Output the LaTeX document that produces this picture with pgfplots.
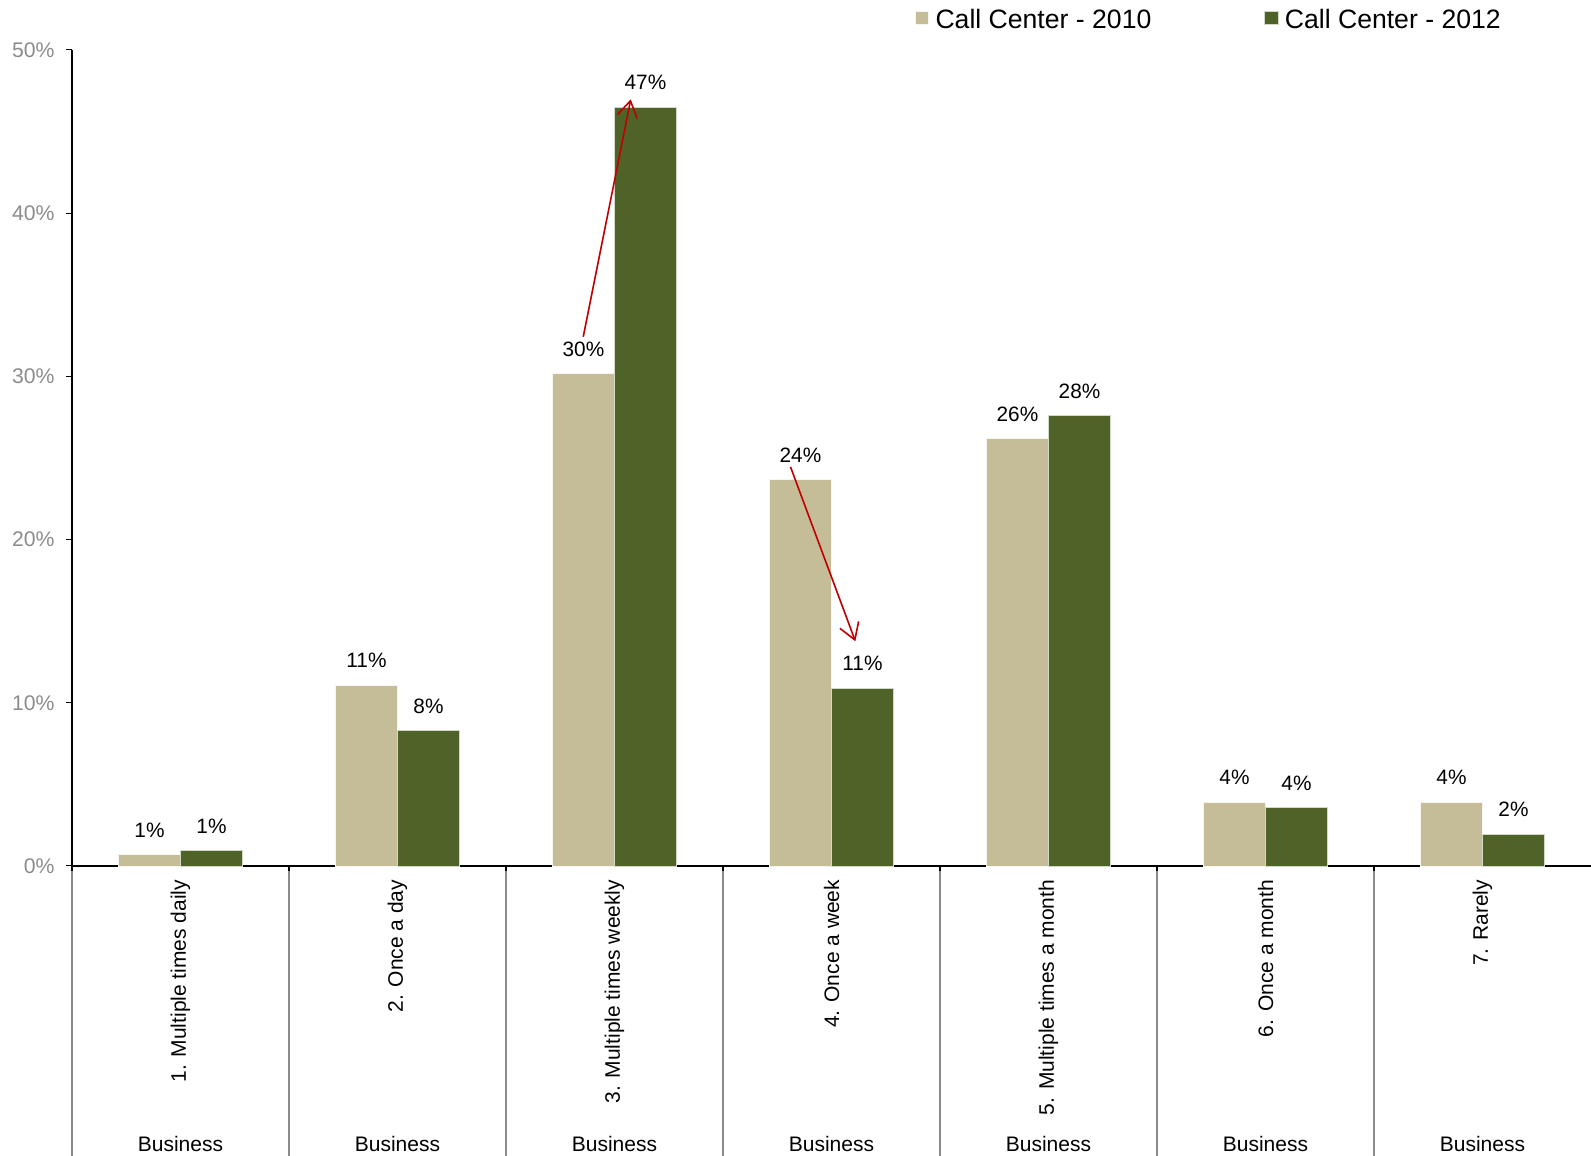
\documentclass[border=0pt]{standalone}
\usepackage{fontspec}
\setmainfont{Liberation Sans}
\usepackage{pgfplots}
\pgfplotsset{compat=1.18}
\usepackage{pgfplotstable}
\usetikzlibrary{arrows.meta}
\definecolor{tan10}{HTML}{C4BD97}
\definecolor{olive12}{HTML}{4F6228}
\definecolor{tickgray}{HTML}{8C8C8C}
\definecolor{sepgray}{HTML}{8A8A8A}
\definecolor{arrowred}{HTML}{C00000}

\pgfplotstableread{
x y lab
0 0.69 1\%
1 11.09 11\%
2 30.18 30\%
3 23.70 24\%
4 26.20 26\%
5 3.92 4\%
6 3.92 4\%
}\dataA
\pgfplotstableread{
x y lab
0 0.96 1\%
1 8.30 8\%
2 46.50 47\%
3 10.90 11\%
4 27.60 28\%
5 3.60 4\%
6 1.96 2\%
}\dataB

\begin{document}
\begin{tikzpicture}
\begin{axis}[
  at={(0,0)}, anchor=south west,
  width=759.5pt, height=408pt, scale only axis,
  xmin=-0.5, xmax=6.5, ymin=0, ymax=50,
  axis lines=left, axis line style={-, black, line width=0.6pt},
  clip=false,
  ybar=0pt, bar width=31pt,
  ytick={0,10,20,30,40,50},
  yticklabel={\pgfmathprintnumber{\tick}\%},
  /pgf/number format/assume math mode=true,
  yticklabel style={text=tickgray, xshift=-2.5pt, font=\fontsize{10.6}{12}\selectfont},
  tick align=outside, major tick length=2.75pt,
  ytick style={black, line width=0.5pt},
  xtick={0,...,6},
  xtick style={draw=none},
  xticklabels={1. Multiple times daily, 2. Once a day, 3. Multiple times weekly, 4. Once a week, 5. Multiple times a month, 6. Once a month, 7. Rarely},
  xticklabel style={rotate=90, anchor=east, inner xsep=4pt, font=\fontsize{10.5}{12}\selectfont},
  nodes near coords,
  point meta=explicit symbolic,
  every node near coord/.append style={anchor=center, yshift=12.2pt, font=\fontsize{10.4}{12}\selectfont, text=black},
  legend columns=2,
  legend style={at={(0.555,1.0365)}, anchor=west, draw=none, fill=none,
    inner sep=0pt, outer sep=0pt,
    font=\fontsize{13.3}{15}\selectfont,
    nodes={inner sep=0pt},
    /tikz/every odd column/.append style={column sep=3.25pt},
    /tikz/every even column/.append style={column sep=56.5pt}},
  legend image code/.code={\fill[#1] (0pt,-2.3pt) rectangle (6.6pt,4.3pt);},
]
\addplot[fill=tan10, draw=white!85!tan10, line width=0.4pt] table[x=x, y=y, meta=lab] {\dataA};
\addlegendentry{Call Center - 2010}
\addplot[fill=olive12, draw=white!75!olive12, line width=0.4pt] table[x=x, y=y, meta=lab] {\dataB};
\addlegendentry{Call Center - 2012}

\pgfplotsinvokeforeach{-0.5,0.5,1.5,2.5,3.5,4.5,5.5}{
  \draw[sepgray, line width=0.6pt] (axis cs:#1,0) -- ++(0pt,-146pt);
  \draw[black, line width=0.6pt] (axis cs:#1,0) -- ++(0pt,-2.75pt);
}
\pgfplotsinvokeforeach{0,...,6}{
  \node[font=\fontsize{10.5}{12}\selectfont, inner sep=0pt] at (axis cs:#1,0) [yshift=-138.75pt] {Business};
}
\draw[arrowred, line width=0.8pt, -{Straight Barb[length=8pt, width=10pt, line width=0.8pt]}]
  (axis cs:1.856,32.43) -- (axis cs:2.075,46.98);
\draw[arrowred, line width=0.8pt, -{Straight Barb[length=8pt, width=10pt, line width=0.8pt]}]
  (axis cs:2.811,24.46) -- (axis cs:3.110,13.77);
\end{axis}
\pgfresetboundingbox
\path (-36pt,-145pt) rectangle (759.5pt,433pt);
\end{tikzpicture}
\end{document}
